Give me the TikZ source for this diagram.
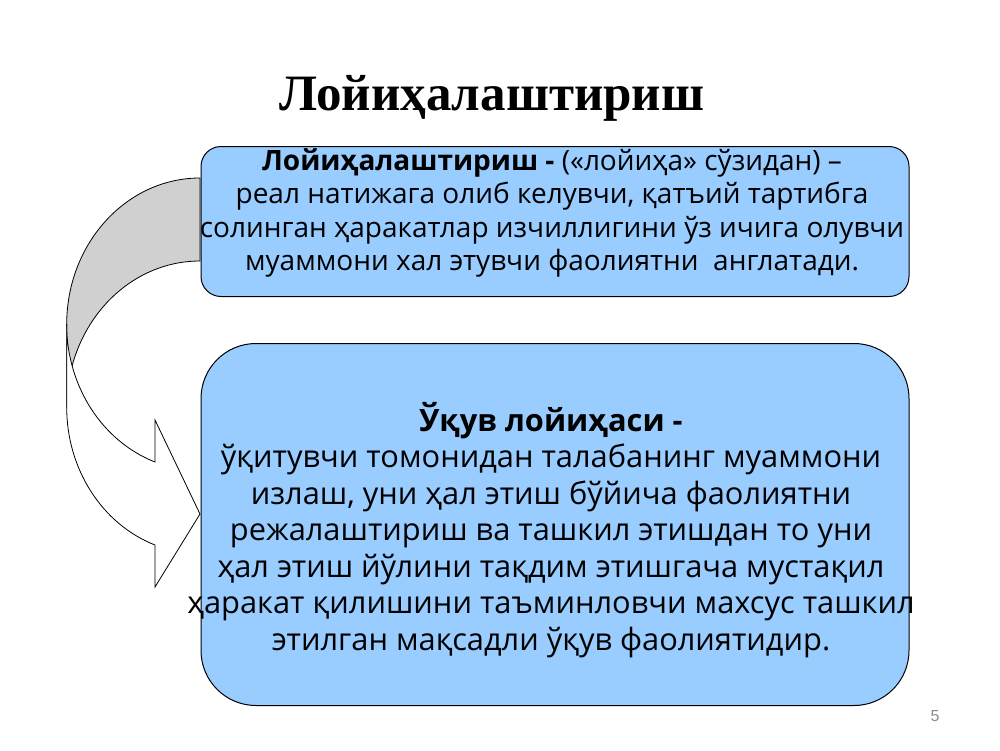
\documentclass[tikz,border=0pt]{standalone}
\usepackage{fontspec}
\setmainfont{Open Sans}
\newfontfamily\titlefont{Liberation Serif}[UprightFont={* Bold}]
\newfontfamily\numfont{Liberation Sans}
\definecolor{boxblue}{HTML}{99CCFF}
\definecolor{backgray}{HTML}{D0D0D0}
\definecolor{numgray}{HTML}{8C8C8C}
\begin{document}
\begin{tikzpicture}[x=1pt,y=-1pt,
  bluebox/.style={draw=black, line width=1pt, fill=boxblue},
  arrowpart/.style={draw=black, line width=0.8pt},
  boxtext/.style={align=center, inner sep=0pt}]
\useasboundingbox (0,0) rectangle (1000,750);
\fill[white] (0,0) rectangle (1000,750);
% title
\node[anchor=base, inner sep=0pt, font=\titlefont\fontsize{51}{56}\selectfont] (title) at (492,110)
  {Лойиҳалаштириш};
% back (gray) part of curved arrow
\draw[arrowpart, fill=backgray] (200,178)
  arc[start angle=270, end angle=180, x radius=133.3, y radius=146.3]
  -- (66.7,407.3)
  arc[start angle=180, end angle=270, x radius=133.3, y radius=146.3]
  -- cycle;
% first box
\node[bluebox, rounded corners=20pt, minimum width=708pt, minimum height=150pt,
  inner sep=0pt] (box1) at (555,221.5) {};
\node[boxtext, font=\fontsize{28}{33.4}\selectfont] (text1) at (552,213)
  {\textbf{Лойиҳалаштириш -} («лойиҳа» сўзидан) –\\
   реал натижага олиб келувчи, қатъий тартибга\\
   солинган ҳаракатлар изчиллигини ўз ичига олувчи\\
   муаммони хал этувчи фаолиятни\ \ англатади.};
% front (white) part of curved arrow
\draw[arrowpart, fill=white] (66.7,324.3) -- (66.7,407.3)
  arc[start angle=180, end angle=109.7, x radius=133.3, y radius=146.3]
  -- (155,587) -- (200,514) -- (155,420) -- (155,462)
  arc[start angle=109.7, end angle=180, x radius=133.3, y radius=146.3]
  -- cycle;
% second box
\node[bluebox, rounded corners=55pt, minimum width=708pt, minimum height=362pt,
  inner sep=0pt] (box2) at (555,524.5) {};
\node[boxtext, font=\fontsize{30.8}{36.5}\selectfont] (text2) at (551,530)
  {\textbf{Ўқув лойиҳаси -}\\
   ўқитувчи томонидан талабанинг муаммони\\
   излаш, уни ҳал этиш бўйича фаолиятни\\
   режалаштириш ва ташкил этишдан то уни\\
   ҳал этиш йўлини тақдим этишгача мустақил\\
   ҳаракат қилишини таъминловчи махсус ташкил\\
   этилган мақсадли ўқув фаолиятидир.};
% page number
\node[inner sep=0pt, text=numgray, font=\numfont\fontsize{16}{18}\selectfont] (pnum) at (935,716) {5};
\end{tikzpicture}
\end{document}
